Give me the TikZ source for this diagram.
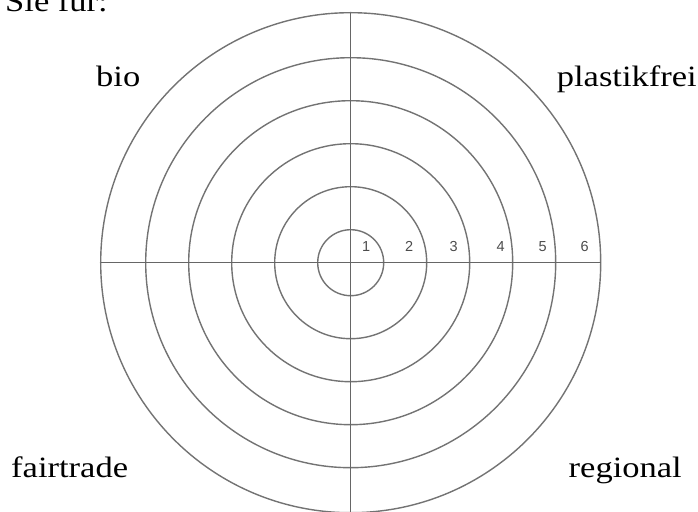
\documentclass[tikz,border=0pt]{standalone}
\usepackage{fontspec}
\setmainfont{Liberation Serif}[FakeStretch=1.17]
\newfontfamily\numfont{Liberation Sans}
\usetikzlibrary{positioning}

\begin{document}
\begin{tikzpicture}[
    x=1pt, y=1pt,
    ring/.style={draw=black!55, line width=1.4pt},
    axis/.style={draw=black!60, line width=1.5pt},
    label/.style={font=\fontsize{29.5}{34}\selectfont, inner sep=0pt},
    ringnum/.style={font=\numfont\fontsize{14.5}{16}\selectfont, text=black!70, inner sep=0pt}
]
\clip (-350.7,-248.3) rectangle (347.3,262.7);

% target rings
\foreach \r in {33,76,119,162,205,250} {
    \draw[ring] (0,0) circle (\r);
}
\coordinate (top) at (0,250);
\coordinate (bottom) at (0,-260);
\coordinate (left) at (-250,0);
\coordinate (right) at (250,0);
\draw[axis] (top) -- (bottom);
\draw[axis] (left) -- (right);

% ring numbers
\foreach \n/\x in {1/15.5,2/58.5,3/103,4/150,5/192,6/234} {
    \node[ringnum] (num\n) at (\x,16.5) {\n};
}

% labels
\node[label, anchor=base east] (question) at (-242.7,250.7) {Sie für:};
\node[label, anchor=base west] (bio) at (-254.7,176.2) {bio};
\node[label, anchor=base east] (plastik) at (346.3,176.2) {plastikfrei};
\node[label, anchor=base west] (fair) at (-339.7,-214.3) {fairtrade};
\node[label, anchor=base east] (regional) at (331.3,-214.3) {regional};
\end{tikzpicture}
\end{document}
